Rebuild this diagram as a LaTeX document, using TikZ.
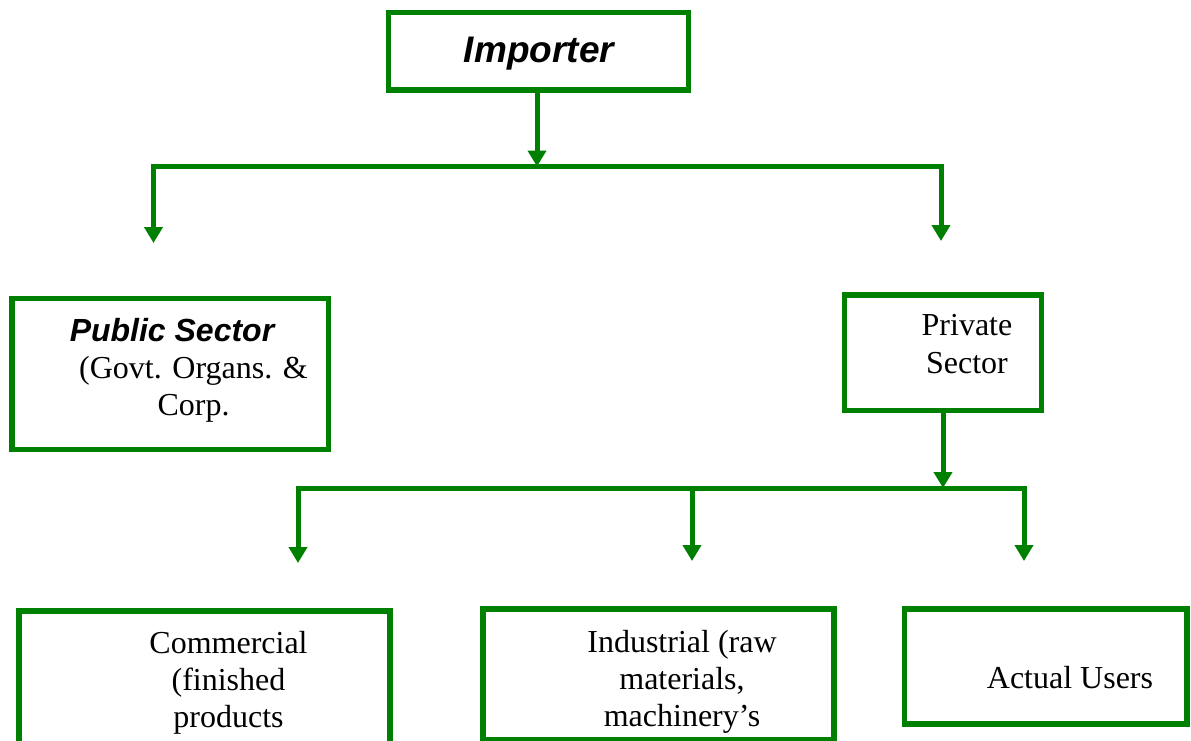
\documentclass[tikz,border=0pt]{standalone}
\usepackage{fontspec}
\setmainfont{Liberation Serif}
\newfontfamily\arialf{Liberation Sans}
\usetikzlibrary{arrows.meta}
\definecolor{dgreen}{RGB}{0,128,0}
\tikzset{
  box/.style={draw=dgreen, line width=5.5pt, fill=white, inner sep=0pt},
  conn/.style={draw=dgreen, line width=5pt, line join=miter},
  arr/.style={conn, -{Triangle[width=18pt,length=16pt]}},
  lbl/.style={inner sep=0pt, anchor=base, text=black},
  ser/.style={lbl, font=\fontsize{32}{37}\selectfont},
}
\begin{document}
\begin{tikzpicture}[x=1pt,y=-1pt]
\useasboundingbox[fill=white] (0,0) rectangle (1191,740);
% boxes
\node[box, minimum width=300pt, minimum height=77.5pt] (imp) at (538.25,51.25) {};
\node[box, minimum width=316.5pt, minimum height=151pt] (pub) at (170.25,374) {};
\node[box, minimum width=197pt, minimum height=115.5pt] (prv) at (943,352.75) {};
\node[box, minimum width=371pt, minimum height=170pt] (com) at (204.5,696) {};
\node[box, minimum width=351pt, minimum height=131pt] (ind) at (658.5,674.5) {};
\node[box, minimum width=282.5pt, minimum height=115pt] (act) at (1045.75,666.5) {};
% junctions
\coordinate (j1) at (537,166.5);
\coordinate (t1l) at (153.5,243);
\coordinate (t1r) at (941,241);
\coordinate (j2) at (943,488);
\coordinate (j2m) at (692,488);
\coordinate (t2l) at (298,563);
\coordinate (t2m) at (692,561);
\coordinate (t2r) at (1024,561);
% connectors
\draw[arr] (imp.south -| j1) -- (j1);
\draw[arr] (j1) -| (t1l);
\draw[arr] (j1) -| (t1r);
\draw[arr] (prv.south -| j2) -- (j2);
\draw[arr] (j2) -| (t2l);
\draw[arr] (j2) -| (t2r);
\draw[arr] ([yshift=-2.5pt]j2m) -- (t2m);
% texts
\node[lbl, font=\arialf\bfseries\itshape\fontsize{37}{40}\selectfont] (timp) at (539,62) {Importer};
\node[lbl, font=\arialf\bfseries\itshape\fontsize{32}{36}\selectfont] (tpub) at (172,341) {Public Sector};
\node[ser] (tpub2) at (193.5,378) {\begin{tabular}[t]{@{}c@{}}(Govt. Organs. \&\\Corp.\end{tabular}};
\node[lbl, font=\fontsize{32}{38.5}\selectfont] (tprv) at (967,335) {\begin{tabular}[t]{@{}c@{}}Private\\Sector\end{tabular}};
\node[ser] (tcom) at (228.5,653) {\begin{tabular}[t]{@{}c@{}}Commercial\\(finished\\products\end{tabular}};
\node[ser] (tind) at (682,652) {\begin{tabular}[t]{@{}c@{}}Industrial (raw\\materials,\\machinery’s\end{tabular}};
\node[ser] (tact) at (1070,688) {Actual Users};
\end{tikzpicture}
\end{document}
